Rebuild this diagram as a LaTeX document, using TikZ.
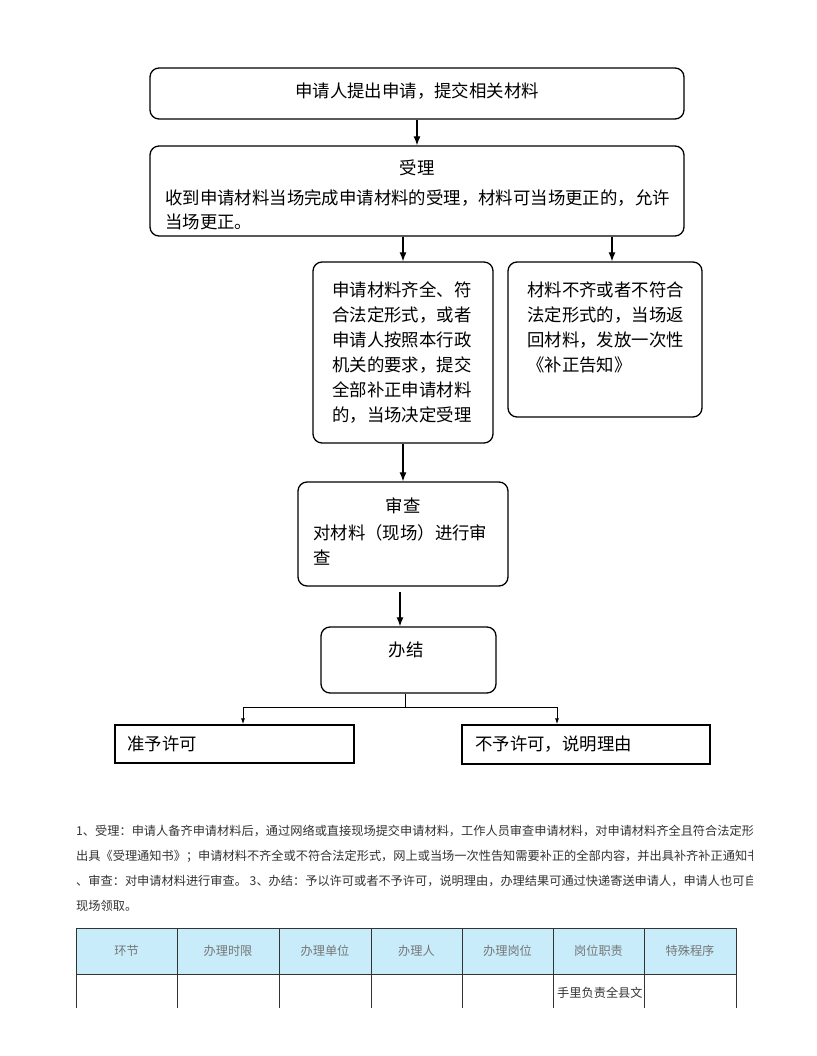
\documentclass[tikz,border=0pt]{standalone}
\usepackage{fontspec}
\setmainfont{Noto Sans CJK SC}
\usetikzlibrary{arrows.meta}
\definecolor{hdblue}{HTML}{C8ECFA}
\definecolor{txtgray}{HTML}{333333}
\definecolor{hdgray}{HTML}{777777}
\tikzset{
    RR1/.style ={rectangle, rounded corners=9pt, draw, line width=1.3pt, inner sep=0pt},
    RA1/.style ={rectangle, draw, line width=1.3pt, inner sep=0pt},
    TX1/.style ={anchor=west, inner sep=0pt, font=\fontsize{17.4}{20}\selectfont},
    TX2/.style ={anchor=west, inner sep=0pt, font=\fontsize{12.2}{14}\selectfont, text=txtgray},
    AR1/.style ={-{Latex[length=9pt,width=7pt]}, line width=1.2pt},
    AR2/.style ={-{Latex[length=6pt,width=4pt]}, line width=1pt}}

\begin{document}
\begin{tikzpicture}[x=1pt,y=-1pt]
        \useasboundingbox[fill=white] (0,0) rectangle (816,1056);
        % flow boxes
        \node[RR1, minimum width=534pt, minimum height=51pt] (apply) at (417,93.5) {};
        \node[RR1, minimum width=534pt, minimum height=90pt] (accept) at (417,191) {};
        \node[RR1, minimum width=180pt, minimum height=181pt] (ok) at (403,352.5) {};
        \node[RR1, minimum width=194pt, minimum height=155pt] (notok) at (605,339.5) {};
        \node[RR1, minimum width=210pt, minimum height=104pt] (review) at (403,534) {};
        \node[RR1, minimum width=175pt, minimum height=66pt] (finish) at (408.5,660) {};
        \node[RA1, minimum width=239pt, minimum height=38pt] (grant) at (234.5,744) {};
        \node[RA1, minimum width=248pt, minimum height=39pt] (deny) at (586,744.5) {};
        % box texts
        \node[TX1, anchor=center] at (417,91) {申请人提出申请，提交相关材料};
        \node[TX1, anchor=center] at (417,168) {受理};
        \node[TX1] at (165,198) {收到申请材料当场完成申请材料的受理，材料可当场更正的，允许};
        \node[TX1] at (165,222) {当场更正。};
        \foreach \t [count=\i] in {申请材料齐全、符,合法定形式，或者,申请人按照本行政,机关的要求，提交,全部补正申请材料,的，当场决定受理}
            \node[TX1] at (332,265+25*\i) {\t};
        \foreach \t [count=\i] in {材料不齐或者不符合,法定形式的，当场返,回材料，发放一次性,《补正告知》}
            \node[TX1] at (527,265+25*\i) {\t};
        \node[TX1, anchor=center] at (403,506) {审查};
        \node[TX1] at (313,533) {对材料（现场）进行审};
        \node[TX1] at (313,558) {查};
        \node[TX1, anchor=center] at (406,650) {办结};
        \node[TX1] at (127,744) {准予许可};
        \node[TX1] at (475,744) {不予许可，说明理由};
        % connectors
        \draw[AR1] (apply) -- (accept);
        \draw[AR1] (accept.south -| ok.north) -- (ok.north);
        \draw[AR1] ([xshift=7pt]notok.north |- accept.south) -- ([xshift=7pt]notok.north);
        \draw[AR1] (ok) -- (review);
        \coordinate (gap) at (400,592);
        \draw[AR1] (gap) -- (gap |- finish.north);
        \coordinate (split) at (405,707);
        \coordinate (sl) at (243,707);
        \coordinate (sr) at (557,707);
        \draw[line width=1pt] (finish.south -| split) -- (split);
        \draw[line width=1pt] (sl) -- (sr);
        \draw[AR2] (sl) -- (sl |- grant.north);
        \draw[AR2] (sr) -- (sr |- deny.north);
        % notes
        \begin{scope}
            \clip (70,815) rectangle (752,920);
            \node[TX2] at (76,831) {1、受理：申请人备齐申请材料后，通过网络或直接现场提交申请材料，工作人员审查申请材料，对申请材料齐全且符合法定形式的};
            \node[TX2] at (76,856) {出具《受理通知书》；申请材料不齐全或不符合法定形式，网上或当场一次性告知需要补正的全部内容，并出具补齐补正通知书};
            \node[TX2] at (76,881) {、审查：对申请材料进行审查。 3、办结：予以许可或者不予许可，说明理由，办理结果可通过快递寄送申请人，申请人也可自行};
            \node[TX2] at (76,906) {现场领取。};
        \end{scope}
        % table
        \fill[hdblue] (76,928) rectangle (736,974);
        \draw[line width=1pt,txtgray] (76,928) -- (736,928);
        \draw[line width=1pt,txtgray] (76,974) -- (736,974);
        \foreach \x in {76,177,279,371,462,553,644,736}
            \draw[line width=1pt,txtgray] (\x,928) -- (\x,1008);
        \foreach \x/\t in {126.5/环节,228/办理时限,325/办理单位,416.5/办理人,507.5/办理岗位,598.5/岗位职责,690/特殊程序}
            \node[TX2, anchor=center, text=hdgray] at (\x,951) {\t};
        \node[TX2] at (557,993) {手里负责全县文};
    \end{tikzpicture}
\end{document}
